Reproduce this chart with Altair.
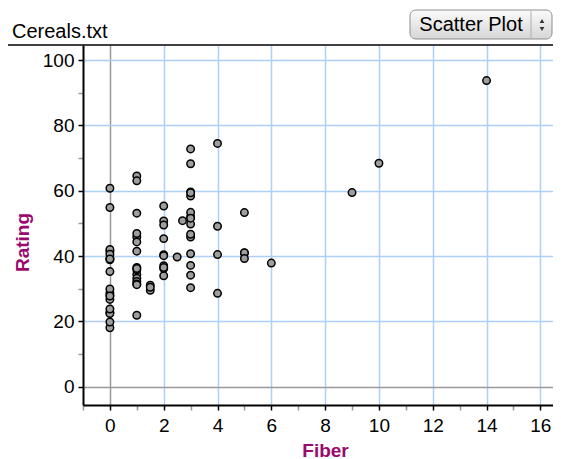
import altair as alt
import pandas as pd

# Cereals data: Fiber vs Rating
fiber = [10, 2, 9, 14, 1, 1.5, 1, 2, 4, 5, 0, 2, 0, 2, 0, 0, 1, 1, 0, 4,
         1, 1, 2, 1, 1, 1, 3, 5, 5, 0, 0, 0, 3, 3, 3, 1, 1.5, 0, 1, 2,
         0, 2, 0, 0, 3, 3, 3, 2, 0, 3, 3, 1.5, 6, 1, 0, 1, 2, 2.7, 5, 2.5,
         2, 0, 0, 3, 4, 3, 1, 1, 3, 0, 4, 3, 0, 0, 3, 3, 1]
rating = [68.40, 33.98, 59.43, 93.70, 34.38, 29.51, 33.17, 37.04, 49.12, 53.31,
          18.04, 50.76, 19.82, 40.40, 22.74, 41.45, 45.86, 35.78, 22.40, 40.45,
          64.53, 46.90, 36.18, 44.33, 32.21, 31.44, 58.35, 40.92, 41.02, 28.03,
          35.25, 23.80, 52.08, 53.37, 45.81, 21.87, 31.07, 28.74, 36.52, 36.47,
          39.24, 45.33, 26.73, 54.85, 37.14, 34.14, 30.31, 40.11, 29.92, 40.69,
          59.64, 30.45, 37.84, 41.50, 60.76, 63.01, 49.51, 50.83, 39.26, 39.70,
          55.33, 41.99, 40.56, 68.24, 74.47, 72.80, 31.23, 53.13, 59.36, 38.84,
          28.59, 46.66, 39.11, 27.75, 49.79, 51.59, 36.19]

x_ticks = list(range(-1, 17))
y_ticks = list(range(0, 101, 10))

df = pd.DataFrame({"Fiber": fiber, "Rating": rating})
one = pd.DataFrame({"k": [0]})

FONT = "Liberation Sans"
PURPLE = "#9a0a6e"
GRID = "#acd0f7"
W, H = 470, 360

points = alt.Chart(df).mark_circle(
    size=56, fill="#9e9e9e", stroke="black", strokeWidth=1.5, opacity=1
).encode(
    x=alt.X("Fiber:Q",
            scale=alt.Scale(domain=[-1, 16.47], nice=False, zero=False),
            axis=alt.Axis(
                values=x_ticks,
                labelExpr="datum.value % 2 === 0 ? datum.label : ''",
                tickColor={"condition": {"test": "datum.value % 2 === 0", "value": "black"}, "value": "#999999"},
                gridColor={"condition": {"test": "datum.value === 0", "value": "#999999"}, "value": GRID},
                gridOpacity={"condition": {"test": "datum.value % 2 !== 0", "value": 0}, "value": 1},
                gridWidth=1.5,
                tickSize=5, tickWidth=1.5,
                domainColor="black", domainWidth=2,
                labelFont=FONT, labelFontSize=19, labelColor="black",
                labelPadding=6, labelFlush=False, labelOverlap=False,
                title="Fiber", titleFont=FONT, titleFontSize=19,
                titleFontWeight="bold", titleColor=PURPLE,
                titleX=242, titleY=45, titleBaseline="middle",
            )),
    y=alt.Y("Rating:Q",
            scale=alt.Scale(domain=[-5.6, 104.6], nice=False, zero=False),
            axis=alt.Axis(
                values=y_ticks,
                labelExpr="datum.value % 20 === 0 ? datum.label : ''",
                tickColor={"condition": {"test": "datum.value % 20 === 0", "value": "black"}, "value": "#999999"},
                gridColor={"condition": {"test": "datum.value === 0", "value": "#999999"}, "value": GRID},
                gridOpacity={"condition": {"test": "datum.value % 20 !== 0", "value": 0}, "value": 1},
                gridWidth=1.5,
                tickSize=5, tickWidth=1.5,
                domainColor="black", domainWidth=2,
                labelFont=FONT, labelFontSize=19, labelColor="black",
                labelPadding=4, labelFlush=False, labelOverlap=False,
                title="Rating", titleFont=FONT, titleFontSize=19,
                titleFontWeight="bold", titleColor=PURPLE,
                titleAngle=270, titleX=-61, titleY=197,
                titleBaseline="middle", titleAlign="center",
            )),
)

sep = alt.Chart(one).mark_rule(color="black", strokeWidth=1.5).encode(
    x=alt.value(-78), x2=alt.value(W), y=alt.value(0)
)

title = alt.Chart(one).mark_text(
    text="Cereals.txt", font=FONT, fontSize=20, color="black",
    align="left", baseline="alphabetic"
).encode(x=alt.value(-71), y=alt.value(-7))

grad = alt.LinearGradient(
    gradient="linear",
    stops=[alt.GradientStop(color="#fbfbfb", offset=0),
           alt.GradientStop(color="#d6d6d6", offset=1)],
    x1=0, x2=0, y1=0, y2=1,
)
button = alt.Chart(one).mark_rect(
    fill=grad, stroke="#8c8c8c", strokeWidth=1, cornerRadius=6
).encode(x=alt.value(327), x2=alt.value(469), y=alt.value(-35), y2=alt.value(-6))

divider = alt.Chart(one).mark_rule(color="#b0b0b0", strokeWidth=1).encode(
    x=alt.value(448), y=alt.value(-34), y2=alt.value(-7)
)

btn_text = alt.Chart(one).mark_text(
    text="Scatter Plot", font=FONT, fontSize=20, color="black",
    align="center", baseline="middle"
).encode(x=alt.value(388), y=alt.value(-20))

arrow_up = alt.Chart(one).mark_point(
    shape="triangle-up", size=22, filled=True, color="#333333", opacity=1
).encode(x=alt.value(459), y=alt.value(-24))
arrow_dn = alt.Chart(one).mark_point(
    shape="triangle-down", size=22, filled=True, color="#333333", opacity=1
).encode(x=alt.value(459), y=alt.value(-16))

chart = alt.layer(points, sep, title, button, divider, btn_text, arrow_up, arrow_dn).properties(
    width=W, height=H,
    autosize=alt.AutoSizeParams(type="none"),
    padding={"left": 75, "top": 37, "right": 0, "bottom": 54},
).configure_view(stroke=None)

chart.save("out.html", embed_options={"renderer": "svg", "actions": False})
